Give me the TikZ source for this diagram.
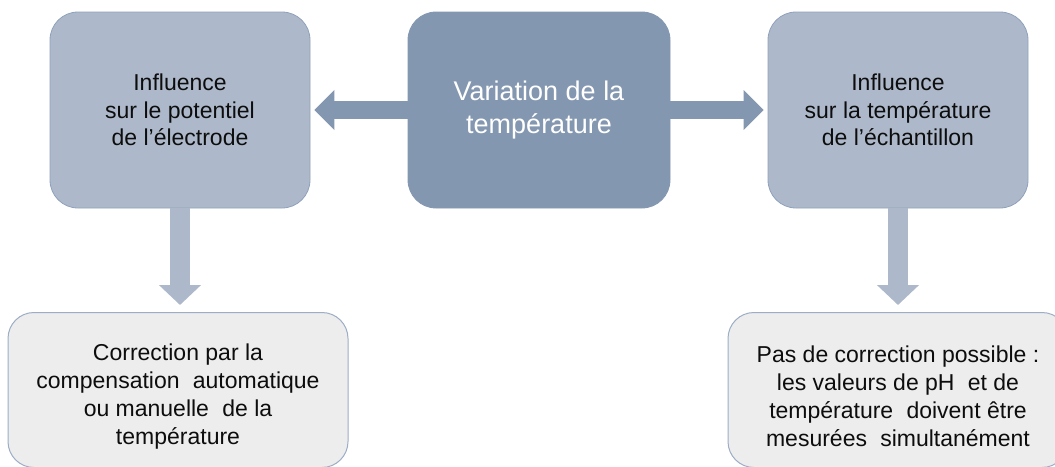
\documentclass[tikz,border=0pt]{standalone}
\usepackage{fontspec}
\setmainfont{Liberation Sans}
\usetikzlibrary{arrows.meta}

\definecolor{boxlight}{HTML}{ADB9CA}
\definecolor{boxdark}{HTML}{8497B0}
\definecolor{boxedge}{HTML}{8FA1BB}
\definecolor{notefill}{HTML}{EDEDED}
\definecolor{noteedge}{HTML}{9DADC6}
\definecolor{inktext}{HTML}{0D0D0D}

% a slightly wider word gap, and a strut that lowers a text block inside its card
\newcommand{\widegap}{\ \hspace{0.3em}}
\newcommand{\lowerstrut}{\rule{0pt}{29pt}}

\tikzset{
  card/.style={rounded corners=28pt, align=center, inner sep=0pt,
    minimum width=260pt, minimum height=196pt,
    font=\fontsize{23}{27.5}\selectfont, text=inktext},
  sidecard/.style={card, fill=boxlight, draw=boxedge, line width=0.8pt},
  maincard/.style={card, fill=boxdark, draw=boxdark, line width=0.8pt,
    minimum width=262pt, text=white, font=\fontsize{27}{33}\selectfont},
  notecard/.style={card, fill=notefill, draw=noteedge, line width=1pt,
    minimum width=340pt, minimum height=155pt, rounded corners=26pt,
    font=\fontsize{23}{28}\selectfont},
  sidearrow/.style={line width=18pt, draw=boxdark,
    -{Triangle[width=39pt, length=20pt]}, shorten >=4pt},
  downarrow/.style={line width=20pt, draw=boxlight,
    -{Triangle[width=41pt, length=20pt]}, shorten >=7pt}
}

\begin{document}
\begin{tikzpicture}[x=1pt, y=-1pt]
  \useasboundingbox (0,0) rectangle (1055,466);

  % top row
  \node[maincard] (temp) at (539,110) {Variation de la\\température};
  \node[sidecard] (pot)  at (180,110) {Influence\\sur le potentiel\\de l’électrode};
  \node[sidecard] (ech)  at (898,110) {Influence\\sur la température\\de l’échantillon};

  % bottom row
  \node[notecard] (corr) at (178,390)
    {\lowerstrut Correction par la\\compensation\widegap automatique\\ou manuelle\widegap de la\\température};
  \node[notecard] (nocorr) at (898,390)
    {\lowerstrut Pas de correction possible :\\les valeurs de pH\widegap et de\\température\widegap doivent être\\mesurées\widegap simultanément};

  % connectors
  \draw[sidearrow] (temp.west) -- (pot.east);
  \draw[sidearrow] (temp.east) -- (ech.west);
  \draw[downarrow] (pot.south) -- (corr.north -| pot.south);
  \draw[downarrow] (ech.south) -- (nocorr.north);
\end{tikzpicture}
\end{document}
